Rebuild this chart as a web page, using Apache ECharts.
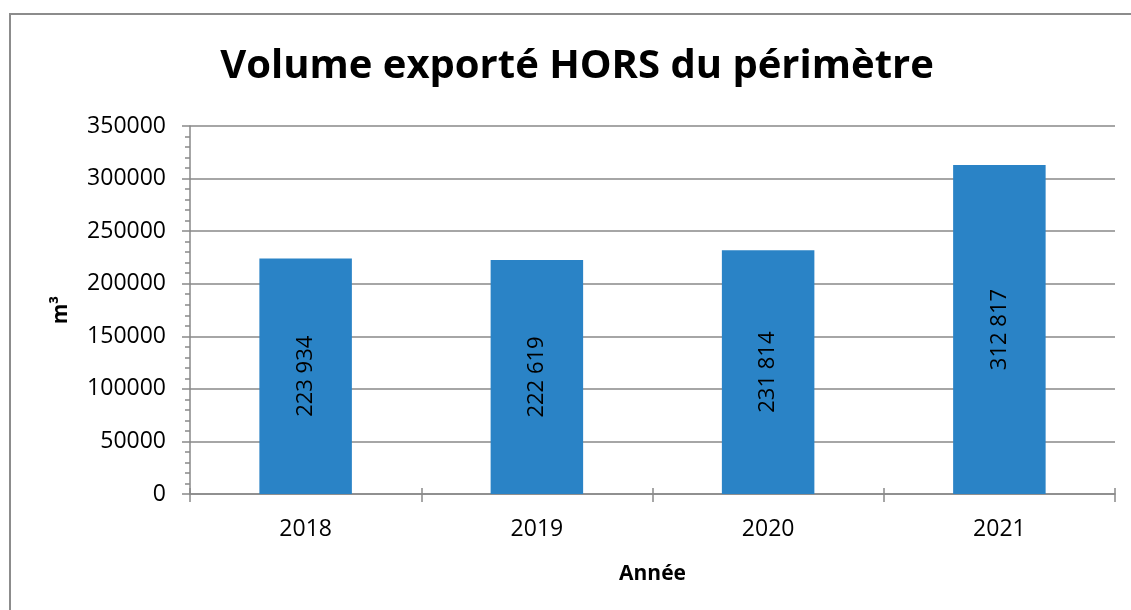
<!DOCTYPE html>
<html>
<head>
<meta charset="utf-8">
<script src="https://cdn.jsdelivr.net/npm/echarts@6/dist/echarts.min.js"></script>
<style>
  html, body { margin: 0; padding: 0; background: #fff; }
  #chart { width: 1131px; height: 610px; }
</style>
</head>
<body>
<div id="chart"></div>
<script>
// données
const years = ['2018', '2019', '2020', '2021']
const volumes = [223934, 222619, 231814, 312817]

const axisGray = '#898989'
const fontFamily = '"Open Sans", "Noto Sans", sans-serif'

function fmt(v) {
  return String(v).replace(/\B(?=(\d{3})+(?!\d))/g, ' ')
}

let myChart = echarts.init(document.getElementById('chart'))

let option = {
  animation: false,
  graphic: [{
    type: 'rect',
    shape: {x: 10, y: 14, width: 1140, height: 620},
    style: {fill: 'none', stroke: '#8c8c8c', lineWidth: 2}
  }],
  title: {
    text: 'Volume exporté HORS du périmètre',
    left: 572,
    top: 42,
    textAlign: 'center',
    textStyle: {fontFamily: fontFamily, fontWeight: 'bold', fontSize: 40, color: '#000'}
  },
  grid: {left: 190, right: 16, top: 126, bottom: 116},
  xAxis: [{
    type: 'category',
    data: years,
    name: 'Année',
    nameLocation: 'middle',
    nameGap: 70,
    nameTextStyle: {fontFamily: fontFamily, fontWeight: 'bold', fontSize: 21, color: '#000'},
    axisLine: {lineStyle: {color: axisGray, width: 1.5}},
    axisTick: {show: true, interval: 0, length: 8, lineStyle: {color: axisGray, width: 1.5}},
    axisLabel: {margin: 24, fontFamily: fontFamily, fontSize: 23, color: '#000'}
  }, {
    type: 'category',
    data: years,
    position: 'bottom',
    axisLine: {show: false},
    axisTick: {show: true, inside: true, interval: 0, length: 6, lineStyle: {color: axisGray, width: 1.5}},
    axisLabel: {show: false}
  }],
  yAxis: [{
    type: 'value',
    min: 0,
    max: 350000,
    interval: 50000,
    name: 'm³',
    nameLocation: 'middle',
    nameGap: 118,
    nameTextStyle: {fontFamily: fontFamily, fontWeight: 'bold', fontSize: 21, color: '#000'},
    axisLine: {show: true, lineStyle: {color: axisGray, width: 1.5}},
    axisTick: {show: true, length: 8, lineStyle: {color: axisGray, width: 1.5}},
    minorTick: {show: true, splitNumber: 5, length: 5, lineStyle: {color: axisGray, width: 1.5}},
    axisLabel: {
      margin: 24,
      fontFamily: fontFamily,
      fontSize: 23,
      color: '#000',
      formatter: function (v) {
        return String(v)
      }
    },
    splitLine: {lineStyle: {color: axisGray, width: 1.5}}
  }, {
    type: 'value',
    min: 0,
    max: 350000,
    interval: 50000,
    position: 'left',
    axisLine: {show: false},
    axisTick: {show: false},
    minorTick: {show: true, splitNumber: 5, length: 5, lineStyle: {color: axisGray, width: 1.5}},
    axisLabel: {show: false},
    splitLine: {show: false}
  }],
  series: [{
    type: 'bar',
    data: volumes,
    barWidth: '40%',
    itemStyle: {color: '#2A83C6'},
    label: {
      show: true,
      position: 'inside',
      rotate: 90,
      fontFamily: fontFamily,
      fontSize: 22,
      color: '#000',
      formatter: function (p) {
        return fmt(p.value)
      }
    }
  }]
}

myChart.setOption(option)
</script>
</body>
</html>
